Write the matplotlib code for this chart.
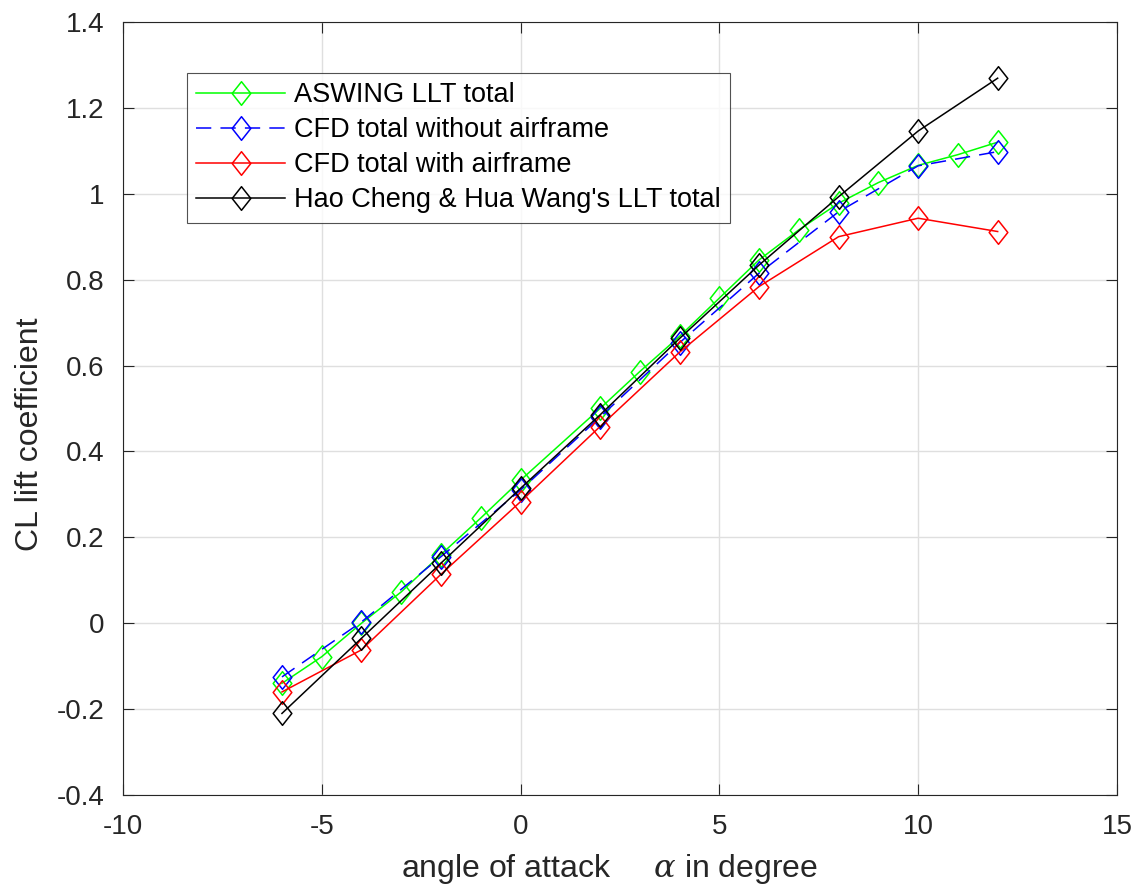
import numpy as np
import matplotlib
matplotlib.use("Agg")
import matplotlib.pyplot as plt
from matplotlib.path import Path
from matplotlib.ticker import FuncFormatter

# data
aswing_alpha = [-6, -5, -4, -3, -2, -1, 0, 2, 3, 4, 5, 6, 7, 8, 9, 10, 11, 12]
aswing_cl = [-0.14, -0.078, 0.0, 0.073, 0.16, 0.245, 0.333, 0.50, 0.586, 0.668,
             0.757, 0.846, 0.916, 0.978, 1.026, 1.066, 1.091, 1.12]

cfd_alpha = [-6, -4, -2, 0, 2, 4, 6, 8, 10, 12]
cfd_noframe_cl = [-0.125, 0.003, 0.155, 0.31, 0.48, 0.653, 0.815, 0.958, 1.065, 1.098]
cfd_frame_cl = [-0.16, -0.062, 0.114, 0.283, 0.458, 0.631, 0.784, 0.90, 0.943, 0.912]

hao_alpha = [-6, -4, -2, 0, 2, 4, 6, 8, 10, 12]
hao_cl = [-0.21, -0.035, 0.14, 0.314, 0.485, 0.663, 0.834, 0.993, 1.146, 1.269]

labels = ["ASWING LLT total", "CFD total without airframe",
          "CFD total with airframe", "Hao Cheng & Hua Wang's LLT total"]

plt.rcParams['font.family'] = ['Liberation Sans', 'DejaVu Sans']
plt.rcParams['axes.unicode_minus'] = False
plt.rcParams['mathtext.fontset'] = 'dejavuserif'

# matlab style diamond, a bit taller than wide
diamond = Path([(0, 1), (0.79, 0), (0, -1), (-0.79, 0), (0, 1)],
               [Path.MOVETO, Path.LINETO, Path.LINETO, Path.LINETO, Path.CLOSEPOLY])

fig = plt.figure(figsize=(11.38, 8.88), dpi=100)
ax = fig.add_axes([0.108, 0.1047, 0.8735, 0.8706])

ms = 17
mew = 1.1
ax.plot(aswing_alpha, aswing_cl, color=(0, 1, 0), lw=1.1, marker=diamond,
        ms=ms, mfc='none', mew=mew, label=labels[0])
ax.plot(cfd_alpha, cfd_noframe_cl, color=(0, 0, 1), lw=1.1, ls=(0, (10, 6)),
        marker=diamond, ms=ms, mfc='none', mew=mew, label=labels[1])
ax.plot(cfd_alpha, cfd_frame_cl, color=(1, 0, 0), lw=1.1, marker=diamond,
        ms=ms, mfc='none', mew=mew, label=labels[2])
ax.plot(hao_alpha, hao_cl, color='k', lw=1.1, marker=diamond,
        ms=ms, mfc='none', mew=mew, label=labels[3])

ax.set_xlim(-10, 15)
ax.set_ylim(-0.4, 1.4)
ax.set_xticks(np.arange(-10, 16, 5))
ax.set_yticks(np.arange(-0.4, 1.41, 0.2))
ax.yaxis.set_major_formatter(FuncFormatter(lambda v, p: '%g' % round(v, 2)))
ax.xaxis.set_major_formatter(FuncFormatter(lambda v, p: '%g' % v))

ax.grid(True, color='#dfdfdf', lw=1.0)
ax.set_axisbelow(True)
for s in ax.spines.values():
    s.set_color('#262626')
    s.set_linewidth(0.8)
ax.tick_params(direction='in', length=8, width=0.8, colors='#262626',
               labelsize=20, top=True, right=True)
ax.tick_params(axis='y', pad=13)
ax.tick_params(axis='x', pad=14)

ax.set_xlabel(r"angle of attack     $\alpha$ in degree", fontsize=23,
              color='#262626')
ax.set_ylabel("CL lift coefficient", fontsize=23, color='#262626')
ax.xaxis.set_label_coords(0.49, -0.074)
ax.yaxis.set_label_coords(-0.078, 0.467)

leg = ax.legend(loc='upper left', bbox_to_anchor=(0.064, 0.934), fontsize=19.5,
                frameon=True, fancybox=False, edgecolor='#262626',
                handlelength=3.3, handletextpad=0.3, borderpad=0.35,
                labelspacing=0.33, borderaxespad=0)
leg.get_frame().set_linewidth(0.8)

fig.savefig("out.png", dpi=100)
